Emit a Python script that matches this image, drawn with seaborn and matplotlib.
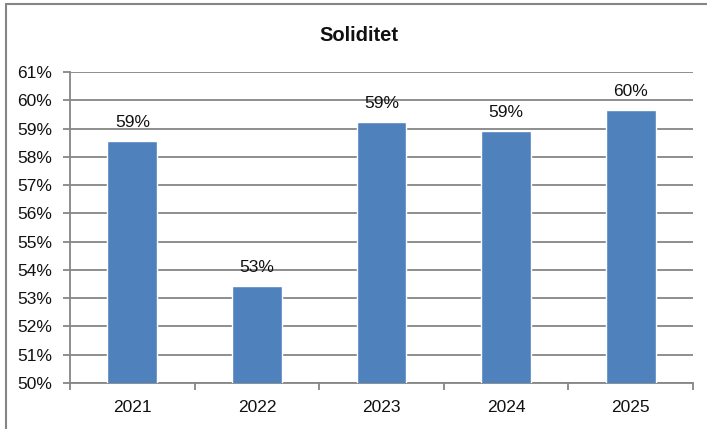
import pandas as pd
import seaborn as sns
import matplotlib.pyplot as plt
from matplotlib.ticker import PercentFormatter, FixedLocator
from matplotlib.lines import Line2D

# data
years = ["2021", "2022", "2023", "2024", "2025"]
solidity = [0.5856, 0.5343, 0.5923, 0.5891, 0.5966]
title = "Soliditet"

df = pd.DataFrame({"year": years, "solidity": solidity})

sns.set_style("white")
plt.rcParams['font.family'] = ['Liberation Sans', 'DejaVu Sans']

fig = plt.figure(figsize=(7.07, 4.29), dpi=100)
ax = fig.add_axes([70 / 707, 46 / 429, 623 / 707, 311 / 429])

sns.barplot(data=df, x="year", y="solidity", color="#4F81BD", width=0.4,
            saturation=1, ax=ax, zorder=3)

ax.set_ylim(0.50, 0.61)
ax.set_xlim(-0.5, len(years) - 0.5)
ax.yaxis.set_major_locator(FixedLocator([0.50 + i * 0.01 for i in range(12)]))
ax.yaxis.set_major_formatter(PercentFormatter(1.0, decimals=0))
ax.yaxis.grid(True, color="#868686", linewidth=1.3, zorder=0)
ax.set_axisbelow(True)

for s in ["top", "right"]:
    ax.spines[s].set_visible(False)
for s in ["left", "bottom"]:
    ax.spines[s].set_color("#868686")
    ax.spines[s].set_linewidth(1.3)

ax.tick_params(axis="y", left=True, length=5, width=1.3, color="#868686",
               labelsize=12.5, pad=8, labelcolor="#111111")
ax.tick_params(axis="x", bottom=False, labelsize=12.5, pad=9,
               labelcolor="#111111")
# x ticks between categories
ax.set_xticks([i + 0.5 for i in range(-1, len(years))], minor=True)
ax.tick_params(axis="x", which="minor", bottom=True, length=5, width=1.3,
               color="#868686")
ax.set_xlabel("")
ax.set_ylabel("")

for i, v in enumerate(solidity):
    ax.annotate(f"{v * 100:.0f}%", (i, v), xytext=(0, 8),
                textcoords="offset points", ha="center", va="bottom",
                fontsize=12.5, color="#111111")

fig.text(0.508, 0.918, title, ha="center", va="center", fontsize=14.5,
         fontweight="bold", color="#111111")

# outer chart border
fig.add_artist(Line2D([6 / 707, 6 / 707], [0, 1 - 4 / 429], color="#868686",
                      linewidth=1.5, transform=fig.transFigure))
fig.add_artist(Line2D([6 / 707, 1], [1 - 4 / 429, 1 - 4 / 429], color="#868686",
                      linewidth=1.5, transform=fig.transFigure))

fig.savefig("out.png", dpi=100)
